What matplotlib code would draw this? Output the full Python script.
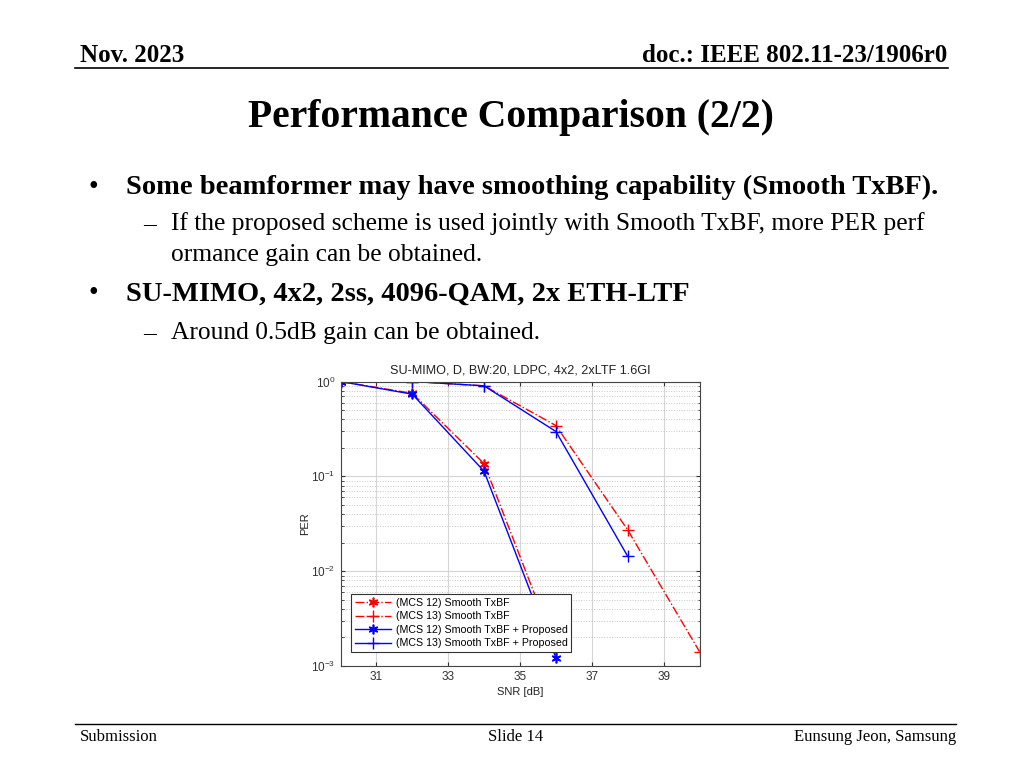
import matplotlib
matplotlib.use("Agg")
import matplotlib.pyplot as plt
import numpy as np

plt.rcParams["mathtext.fontset"] = "custom"
plt.rcParams["mathtext.rm"] = "Liberation Sans"
plt.rcParams["mathtext.it"] = "Liberation Sans:italic"
plt.rcParams["mathtext.bf"] = "Liberation Sans:bold"

# ---- data ----
snr_mcs12 = [30, 32, 34, 36]
per_mcs12_smooth = [1.0, 0.75, 0.136, 0.0015]
per_mcs12_prop = [1.0, 0.735, 0.113, 0.00122]
snr_mcs13_smooth = [30, 32, 34, 36, 38, 40]
per_mcs13_smooth = [1.0, 1.0, 0.90, 0.343, 0.0272, 0.00142]
snr_mcs13_prop = [30, 32, 34, 36, 38]
per_mcs13_prop = [1.0, 1.0, 0.90, 0.297, 0.01435]
legend_labels = ["(MCS 12) Smooth TxBF", "(MCS 13) Smooth TxBF",
                 "(MCS 12) Smooth TxBF + Proposed", "(MCS 13) Smooth TxBF + Proposed"]
xticks = [31, 33, 35, 37, 39]

W, H = 1024, 768
fig = plt.figure(figsize=(W / 100, H / 100), dpi=100)

def fx(x):
    return x / W

def fy(y):
    return 1 - y / H

serif = "Liberation Serif"
sans = "Liberation Sans"

# header
fig.text(fx(80), fy(55), "Nov. 2023", fontfamily=serif, fontweight="bold", fontsize=18, va="center", ha="left")
fig.text(fx(947), fy(55), "doc.: IEEE 802.11-23/1906r0", fontfamily=serif, fontweight="bold", fontsize=18, va="center", ha="right")
fig.add_artist(plt.Line2D([fx(75), fx(948)], [fy(68), fy(68)], color="black", lw=1.2))

# title
fig.text(fx(511), fy(118), "Performance Comparison (2/2)", fontfamily=serif, fontweight="bold", fontsize=28.5, va="center", ha="center")

# bullets
fig.text(fx(88), fy(187), "•", fontfamily=serif, fontsize=20, va="center", ha="left")
fig.text(fx(126), fy(187), "Some beamformer may have smoothing capability (Smooth TxBF).", fontfamily=serif, fontweight="bold", fontsize=20.5, va="center", ha="left")
fig.text(fx(143), fy(224), "–", fontfamily=serif, fontsize=18.4, va="center", ha="left")
fig.text(fx(171), fy(224), "If the proposed scheme is used jointly with Smooth TxBF, more PER perf", fontfamily=serif, fontsize=18.4, va="center", ha="left")
fig.text(fx(171), fy(255), "ormance gain can be obtained.", fontfamily=serif, fontsize=18.4, va="center", ha="left")
fig.text(fx(88), fy(294), "•", fontfamily=serif, fontsize=20, va="center", ha="left")
fig.text(fx(126), fy(294), "SU-MIMO, 4x2, 2ss, 4096-QAM, 2x ETH-LTF", fontfamily=serif, fontweight="bold", fontsize=20.5, va="center", ha="left")
fig.text(fx(143), fy(333), "–", fontfamily=serif, fontsize=18.4, va="center", ha="left")
fig.text(fx(171), fy(333), "Around 0.5dB gain can be obtained.", fontfamily=serif, fontsize=18.4, va="center", ha="left")

# footer
fig.add_artist(plt.Line2D([fx(75), fx(956)], [fy(724), fy(724)], color="black", lw=1.0))
fig.text(fx(80), fy(737), "Submission", fontfamily=serif, fontsize=12, va="center", ha="left")
fig.text(fx(516), fy(737), "Slide 14", fontfamily=serif, fontsize=12, va="center", ha="center")
fig.text(fx(956), fy(737), "Eunsung Jeon, Samsung", fontfamily=serif, fontsize=12, va="center", ha="right")

# chart
ast = (6, 2, 0)
ax = fig.add_axes([fx(340.5), fy(666), (699.5 - 340.5) / W, (666 - 381.5) / H])
ax.set_yscale("log")
ax.plot(snr_mcs12, per_mcs12_smooth, color="red", ls="-.", lw=1.0, marker=ast, ms=7, mew=1.2, label=legend_labels[0])
ax.plot(snr_mcs13_smooth, per_mcs13_smooth, color="red", ls="-.", lw=1.0, marker="+", ms=8, mew=1.0, label=legend_labels[1])
ax.plot(snr_mcs12, per_mcs12_prop, color="blue", ls="-", lw=1.0, marker=ast, ms=7, mew=1.2, label=legend_labels[2])
ax.plot(snr_mcs13_prop, per_mcs13_prop, color="blue", ls="-", lw=1.0, marker="+", ms=8, mew=1.0, label=legend_labels[3])
ax.set_xlim(30, 40)
ax.set_ylim(1e-3, 1)
ax.set_xticks(xticks)
ax.grid(True, which="major", axis="both", color="#d5d5d5", lw=0.8, ls="-")
ax.grid(True, which="minor", axis="y", color="#c8c8c8", lw=0.7, ls=":")
ax.set_axisbelow(True)
for s in ax.spines.values():
    s.set_color("#444444")
    s.set_linewidth(0.8)
ax.tick_params(which="both", direction="in", labelsize=8.5, colors="#333333", length=3,
               top=True, right=True)
ax.tick_params(which="minor", length=1.8)
for lab in ax.get_xticklabels() + ax.get_yticklabels():
    lab.set_fontfamily(sans)
ax.set_title("SU-MIMO, D, BW:20, LDPC, 4x2, 2xLTF 1.6GI", fontfamily=sans, fontsize=9.1, color="#222222", pad=6)
ax.set_xlabel("SNR [dB]", fontfamily=sans, fontsize=8, color="#222222", labelpad=3)
ax.set_ylabel("PER", fontfamily=sans, fontsize=8, color="#222222", labelpad=1)
leg = ax.legend(loc="lower left", bbox_to_anchor=(0.015, 0.03), prop={"family": sans, "size": 7.7},
                frameon=True, fancybox=False, edgecolor="#333333", framealpha=1,
                borderpad=0.35, labelspacing=0.33, handlelength=3.4, handletextpad=0.4)
leg.get_frame().set_linewidth(0.8)

fig.savefig("out.png", dpi=100)
